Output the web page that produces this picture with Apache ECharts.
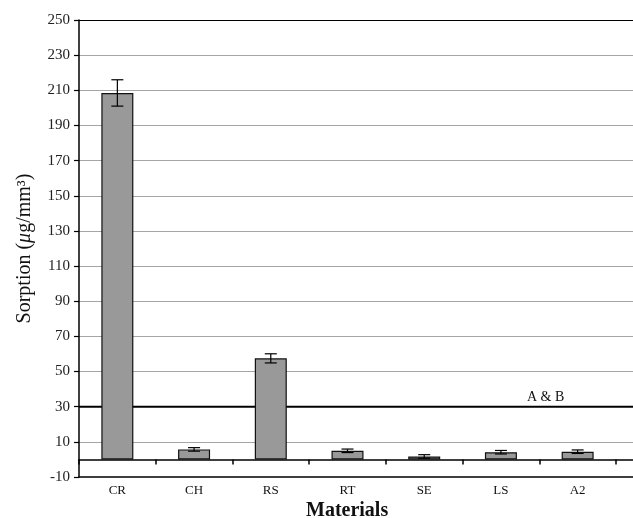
<!DOCTYPE html>
<html><head><meta charset="utf-8">
<script src="https://cdn.jsdelivr.net/npm/echarts@6/dist/echarts.min.js"></script>
<style>html,body{margin:0;padding:0;background:#fff}#c{width:633px;height:518px}</style>
</head><body><div id="c"></div>
<script>
var categories = ['CR', 'CH', 'RS', 'RT', 'SE', 'LS', 'A2'];
var sorption = [208.5, 5.7, 57.5, 4.9, 1.7, 4.1, 4.4];
var errors = [7.5, 1.0, 2.6, 1.0, 1.0, 1.0, 1.0];
var threshold = 30;
var thresholdLabel = 'A & B';
var yTicks = [-10, 10, 30, 50, 70, 90, 110, 130, 150, 170, 190, 210, 230, 250];

var serif = '"Liberation Serif", "DejaVu Serif", serif';
var chart = echarts.init(document.getElementById('c'));
var errData = categories.map(function (c, i) { return [i, sorption[i] - errors[i], sorption[i] + errors[i]]; });
var splitColors = yTicks.map(function (v) { return v === 250 ? '#000' : (v === -10 || v === 30 ? 'rgba(0,0,0,0)' : '#a6a6a6'); });
var yBase = { type: 'value', min: yTicks[0], max: yTicks[yTicks.length - 1], interval: 20 };

chart.setOption({
  animation: false,
  title: {
    text: 'Materials', left: 301, top: 496,
    textStyle: { fontFamily: serif, fontWeight: 'bold', fontSize: 20, color: '#111' }
  },
  grid: [
    { left: 79, top: 20, width: 537, bottom: 41 },
    { left: 79, top: 20, right: 0, bottom: 41 }
  ],
  xAxis: [{
    gridIndex: 0, type: 'category', data: categories, position: 'bottom',
    axisLine: { show: false, onZero: false },
    axisTick: { show: false },
    axisLabel: { interval: 0, fontFamily: serif, fontSize: 13, color: '#111', margin: 7 },
    splitLine: { show: false }
  }, {
    gridIndex: 0, type: 'category', data: categories, position: 'bottom',
    axisLine: { show: false, onZero: true },
    axisTick: { show: true, interval: 0, length: 5, lineStyle: { color: '#000', width: 1.5 } },
    axisLabel: { show: false },
    splitLine: { show: false }
  }, {
    gridIndex: 1, type: 'value', min: 0, max: 1, position: 'bottom',
    axisLine: { show: true, onZero: false, lineStyle: { color: '#000', width: 1.5 } },
    axisTick: { show: false }, axisLabel: { show: false }, splitLine: { show: false }
  }, {
    gridIndex: 1, type: 'value', min: 0, max: 1, position: 'bottom',
    axisLine: { show: true, onZero: true, lineStyle: { color: '#000', width: 1.5 } },
    axisTick: { show: false }, axisLabel: { show: false }, splitLine: { show: false }
  }],
  yAxis: [Object.assign({}, yBase, {
    gridIndex: 0,
    name: '{n|Sorption (}{i|μ}{n|g/mm³)}', nameLocation: 'middle', nameGap: 44, nameRotate: 90,
    nameTextStyle: { rich: {
      n: { fontFamily: serif, fontSize: 20, color: '#111' },
      i: { fontFamily: serif, fontSize: 20, fontStyle: 'italic', color: '#111' } } },
    axisLine: { show: true, onZero: false, lineStyle: { color: '#000', width: 1.5 } },
    axisTick: { show: true, length: 5, lineStyle: { color: '#000', width: 1.2 } },
    axisLabel: { fontFamily: serif, fontSize: 15, color: '#222', margin: 9 },
    splitLine: { show: false }
  }), Object.assign({}, yBase, {
    gridIndex: 1,
    axisLine: { show: false }, axisTick: { show: false }, axisLabel: { show: false },
    splitLine: { show: true, lineStyle: { color: splitColors, width: 1.2 } }
  })],
  series: [{
    type: 'line', xAxisIndex: 2, yAxisIndex: 1, data: [[0, threshold], [1, threshold]],
    symbol: 'none', silent: true, z: 1,
    lineStyle: { color: '#000', width: 2 }
  }, {
    type: 'bar', data: sorption, barWidth: 32, xAxisIndex: 0, yAxisIndex: 0, z: 3,
    itemStyle: { color: '#999999', borderColor: '#111', borderWidth: 1.2 },
    markPoint: {
      silent: true, symbol: 'rect', symbolSize: 1, itemStyle: { color: 'rgba(0,0,0,0)' },
      label: { show: true, formatter: thresholdLabel, offset: [-32, -9],
        fontFamily: serif, fontSize: 14, color: '#111' },
      data: [{ coord: ['A2', threshold] }]
    }
  }, {
    type: 'custom', xAxisIndex: 0, yAxisIndex: 0, data: errData, z: 5,
    renderItem: function (params, api) {
      var x = api.value(0);
      var lo = api.coord([x, api.value(1)]);
      var hi = api.coord([x, api.value(2)]);
      var hw = 6;
      var st = { stroke: '#000', lineWidth: 1.2 };
      return { type: 'group', children: [
        { type: 'line', shape: { x1: lo[0], y1: lo[1], x2: hi[0], y2: hi[1] }, style: st },
        { type: 'line', shape: { x1: lo[0] - hw, y1: lo[1], x2: lo[0] + hw, y2: lo[1] }, style: st },
        { type: 'line', shape: { x1: hi[0] - hw, y1: hi[1], x2: hi[0] + hw, y2: hi[1] }, style: st }
      ] };
    }
  }]
});
</script></body></html>
